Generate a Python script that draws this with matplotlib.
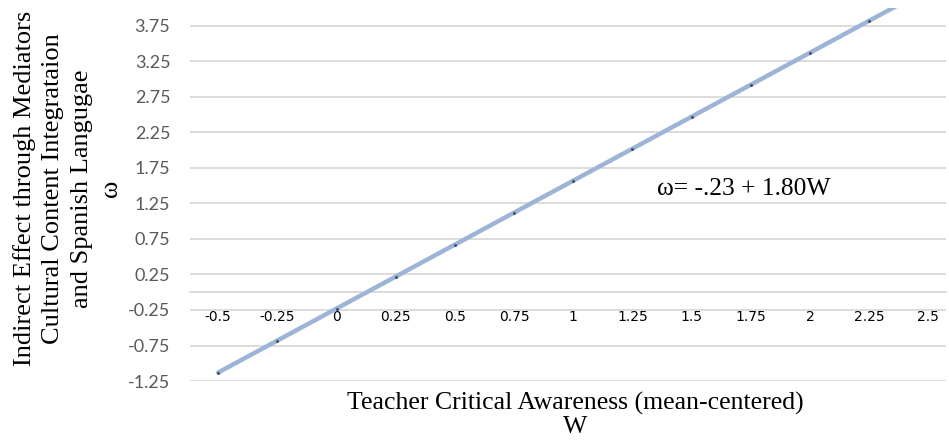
import matplotlib
matplotlib.use("Agg")
import matplotlib.pyplot as plt

# values
w_values = [-0.5, -0.25, 0, 0.25, 0.5, 0.75, 1, 1.25, 1.5, 1.75, 2, 2.25, 2.5]
omega_values = [-1.13, -0.68, -0.23, 0.22, 0.67, 1.12, 1.57, 2.02, 2.47, 2.92, 3.37, 3.82, 4.27]

x_ticks = [-0.5, -0.25, 0, 0.25, 0.5, 0.75, 1, 1.25, 1.5, 1.75, 2, 2.25, 2.5]
x_tick_labels = ["-0.5", "-0.25", "0", "0.25", "0.5", "0.75", "1", "1.25",
                 "1.5", "1.75", "2", "2.25", "2.5"]
y_ticks = [-1.25, -0.75, -0.25, 0.25, 0.75, 1.25, 1.75, 2.25, 2.75, 3.25, 3.75]
y_tick_labels = ["-1.25", "-0.75", "-0.25", "0.25", "0.75", "1.25", "1.75",
                 "2.25", "2.75", "3.25", "3.75"]

y_title = "Indirect Effect through Mediators\nCultural Content Integrataion\nand Spanish Langugae\nω"
x_title = "Teacher Critical Awareness (mean-centered)\nW"
equation = "ω= -.23 + 1.80W"

grid_color = "#D9D9D9"
tick_color = "#595959"
line_color = "#9DB4D6"
serif = ["Liberation Serif", "DejaVu Serif"]
sans = ["Lato", "DejaVu Sans"]

fig = plt.figure(figsize=(9.49, 4.40), dpi=100)
ax = fig.add_axes([0.200, 0.134, 0.797, 0.848])

ax.plot(w_values, omega_values, color=line_color, linewidth=3.2,
        solid_capstyle="round", marker="o", markersize=1.2,
        markerfacecolor="#44546A", markeredgecolor="#44546A", zorder=3)

ax.set_xlim(-0.62, 2.575)
ax.set_ylim(-1.25, 4.0)

ax.set_yticks(y_ticks)
ax.set_yticklabels(y_tick_labels, fontfamily=sans, fontsize=13, color=tick_color)
ax.set_xticks(x_ticks)
ax.set_xticklabels(x_tick_labels, fontfamily=sans, fontsize=13, color=tick_color)

ax.grid(axis="y", color=grid_color, linewidth=1.3, zorder=0)
ax.tick_params(axis="both", length=0)
ax.tick_params(axis="y", pad=14)
ax.tick_params(axis="x", pad=13)

for side in ["left", "right", "top"]:
    ax.spines[side].set_visible(False)
ax.spines["bottom"].set_position(("data", 0))
ax.spines["bottom"].set_color(grid_color)
ax.spines["bottom"].set_linewidth(1.3)

ax.text(1.355, 1.45, equation, fontfamily=serif, fontsize=18.4, va="center", ha="left")

fig.text(0.071, 0.571, y_title, rotation=90, ha="center", va="center",
         fontfamily=serif, fontsize=19, linespacing=1.4)
fig.text(0.606, 0.057, x_title, ha="center", va="center",
         fontfamily=serif, fontsize=18.5, linespacing=1.08)

fig.savefig("out.png", dpi=100)
